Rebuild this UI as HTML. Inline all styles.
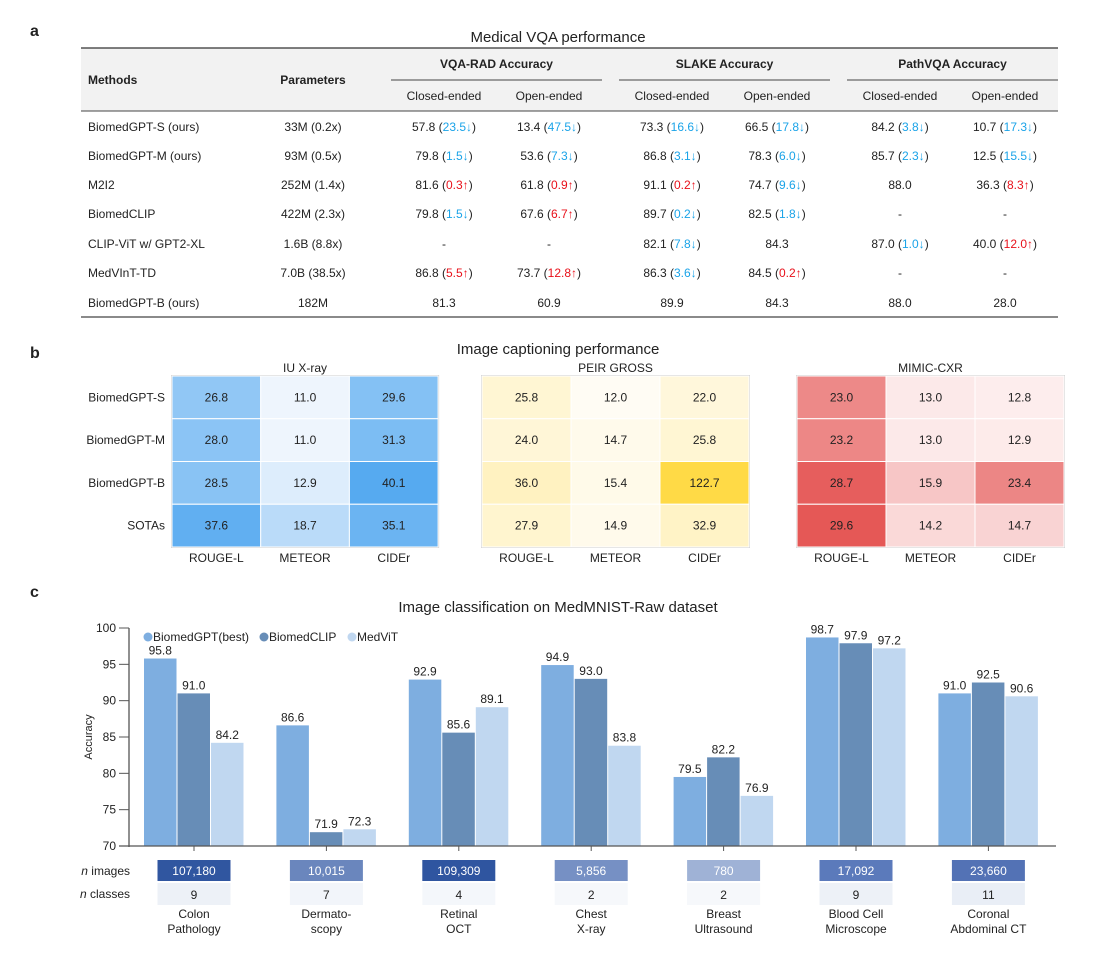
<!DOCTYPE html>
<html><head><meta charset="utf-8"><style>
body{margin:0;background:#fff;}
svg{display:block;font-family:"Liberation Sans",Arial,sans-serif;}
</style></head><body>
<svg id="fig" width="1110" height="965" viewBox="0 0 1110 965"></svg>
<script>
// ---- Table data ----
const methods=["BiomedGPT-S (ours)","BiomedGPT-M (ours)","M2I2","BiomedCLIP","CLIP-ViT w/ GPT2-XL","MedVInT-TD","BiomedGPT-B (ours)"];
const params=["33M (0.2x)","93M (0.5x)","252M (1.4x)","422M (2.3x)","1.6B (8.8x)","7.0B (38.5x)","182M"];
const vqaRad=[["57.8","23.5↓","13.4","47.5↓"],["79.8","1.5↓","53.6","7.3↓"],["81.6","0.3↑","61.8","0.9↑"],["79.8","1.5↓","67.6","6.7↑"],["-","","-",""],["86.8","5.5↑","73.7","12.8↑"],["81.3","","60.9",""]];
const slake=[["73.3","16.6↓","66.5","17.8↓"],["86.8","3.1↓","78.3","6.0↓"],["91.1","0.2↑","74.7","9.6↓"],["89.7","0.2↓","82.5","1.8↓"],["82.1","7.8↓","84.3",""],["86.3","3.6↓","84.5","0.2↑"],["89.9","","84.3",""]];
const pathvqa=[["84.2","3.8↓","10.7","17.3↓"],["85.7","2.3↓","12.5","15.5↓"],["88.0","","36.3","8.3↑"],["-","","-",""],["87.0","1.0↓","40.0","12.0↑"],["-","","-",""],["88.0","","28.0",""]];
// ---- Heatmap data ----
const hmRows=["BiomedGPT-S","BiomedGPT-M","BiomedGPT-B","SOTAs"];
const hmCols=["ROUGE-L","METEOR","CIDEr"];
const iuXray=[[26.8,11.0,29.6],[28.0,11.0,31.3],[28.5,12.9,40.1],[37.6,18.7,35.1]];
const peirGross=[[25.8,12.0,22.0],[24.0,14.7,25.8],[36.0,15.4,122.7],[27.9,14.9,32.9]];
const mimicCxr=[[23.0,13.0,12.8],[23.2,13.0,12.9],[28.7,15.9,23.4],[29.6,14.2,14.7]];
// ---- Bar chart data ----
const categories=[["Colon","Pathology"],["Dermato-","scopy"],["Retinal","OCT"],["Chest","X-ray"],["Breast","Ultrasound"],["Blood Cell","Microscope"],["Coronal","Abdominal CT"]];
const biomedGPT=[95.8,86.6,92.9,94.9,79.5,98.7,91.0];
const biomedCLIP=[91.0,71.9,85.6,93.0,82.2,97.9,92.5];
const medViT=[84.2,72.3,89.1,83.8,76.9,97.2,90.6];
const nImages=["107,180","10,015","109,309","5,856","780","17,092","23,660"];
const nClasses=["9","7","4","2","2","9","11"];
const yTicks=[70,75,80,85,90,95,100];

const NS="http://www.w3.org/2000/svg";
const svg=document.getElementById('fig');
function el(tag,attrs,parent){const e=document.createElementNS(NS,tag);for(const k in attrs)e.setAttribute(k,attrs[k]);(parent||svg).appendChild(e);return e;}
function txt(x,y,s,o,parent){o=o||{};const t=el('text',{x:x,y:y,'font-size':o.size||12,'text-anchor':o.anchor||'middle',fill:o.fill||'#222','font-weight':o.weight||'normal'},parent);t.textContent=s;return t;}

let t;
t=txt(30,36,"a",{size:16,weight:'bold',anchor:'start'});
t=txt(30,358,"b",{size:16,weight:'bold',anchor:'start'});
t=txt(30,597,"c",{size:16,weight:'bold',anchor:'start'});
t=txt(558,42,"Medical VQA performance",{size:15});
t=txt(558,354,"Image captioning performance",{size:15});
t=txt(558,612,"Image classification on MedMNIST-Raw dataset",{size:15});

// ---- Table ----
const tg=el('g',{});
el('rect',{x:81,y:48,width:977,height:63,fill:'#f2f2f2'},tg);
el('line',{x1:81,y1:48,x2:1058,y2:48,stroke:'#333','stroke-width':1.3},tg);
el('line',{x1:81,y1:111,x2:1058,y2:111,stroke:'#444','stroke-width':1},tg);
el('line',{x1:81,y1:317,x2:1058,y2:317,stroke:'#444','stroke-width':1.2},tg);
txt(88,84,"Methods",{weight:'bold',anchor:'start'},tg);
txt(313,84,"Parameters",{weight:'bold'},tg);
const groups=[["VQA-RAD Accuracy",391,602,444,549,vqaRad],["SLAKE Accuracy",619,830,672,777,slake],["PathVQA Accuracy",847,1058,900,1005,pathvqa]];
const rowY=[131,160,189,218,248,277,307];
groups.forEach(g=>{
  txt((g[1]+g[2])/2,68,g[0],{weight:'bold'},tg);
  el('line',{x1:g[1],y1:80,x2:g[2],y2:80,stroke:'#444','stroke-width':1},tg);
  txt(g[3],100,"Closed-ended",{},tg);txt(g[4],100,"Open-ended",{},tg);
  g[5].forEach((r,i)=>{
    [[g[3],r[0],r[1]],[g[4],r[2],r[3]]].forEach(c=>{
      const tt=txt(c[0],rowY[i],"",{},tg);
      const a=document.createElementNS(NS,'tspan');a.textContent=c[1]+(c[2]?" (":"");tt.appendChild(a);
      if(c[2]){const b=document.createElementNS(NS,'tspan');b.textContent=c[2];b.setAttribute('fill',c[2].includes('↑')?'#e8101a':'#1aa3e8');tt.appendChild(b);
        const d=document.createElementNS(NS,'tspan');d.textContent=")";tt.appendChild(d);}
    });
  });
});
methods.forEach((m,i)=>{txt(88,rowY[i],m,{anchor:'start'},tg);txt(313,rowY[i],params[i],{},tg);});

// ---- Heatmaps ----
function mix(c1,c2,f){return 'rgb('+c1.map((v,i)=>Math.round(v+(c2[i]-v)*f)).join(',')+')';}
function heatmap(name,title,data,x0,lo,hi,showRows){
  const g=el('g',{});
  const y0=376,cw=(name==='heatmap-iu-xray')?88.7:89,ch=42.75;
  const flat=data.flat();const mn=Math.min(...flat),mx=Math.max(...flat);
  el('rect',{x:x0-0.5,y:y0-0.5,width:cw*3+1,height:ch*4+1,fill:'none',stroke:'#ccc'},g);
  data.forEach((r,i)=>r.forEach((v,j)=>{
    const f=Math.pow((v-mn)/(mx-mn),0.8);
    const c=el('rect',{x:x0+j*cw,y:y0+i*ch,width:cw,height:ch,fill:mix(lo,hi,f),stroke:'#fff','stroke-width':1},g);
    
    txt(x0+j*cw+cw/2,y0+i*ch+ch/2+4,v.toFixed(1),{},g);
  }));
  txt(x0+cw*1.5,372,title,{},g);
  hmCols.forEach((c,j)=>txt(x0+j*cw+cw/2,562,c,{},g));
  if(showRows)hmRows.forEach((r,i)=>txt(165,y0+i*ch+ch/2+4,r,{anchor:'end'},g));
}
heatmap('heatmap-iu-xray','IU X-ray',iuXray,172,[238,245,253],[86,170,240],true);
heatmap('heatmap-peir-gross','PEIR GROSS',peirGross,482,[255,252,244],[255,218,70],false);
heatmap('heatmap-mimic-cxr','MIMIC-CXR',mimicCxr,797,[253,237,237],[229,88,86],false);

// ---- Bar chart ----
const cg=el('g',{});
const yA=v=>846-(v-70)*(218/30);
const xC=i=>194+i*132.4;
const series=[[biomedGPT,'#7eaee0','BiomedGPT(best)'],[biomedCLIP,'#678db7','BiomedCLIP'],[medViT,'#c0d7f0','MedViT']];
series.forEach((s,k)=>{
  s[0].forEach((v,i)=>{
    const x=xC(i)-50+k*33.5;
    const b=el('rect',{x:x,y:yA(v),width:32.5,height:846-yA(v),fill:s[1]},cg);
    
    txt(x+16.25,yA(v)-4,v.toFixed(1),{},cg);
  });
});
el('line',{x1:129,y1:628,x2:129,y2:847,stroke:'#555','stroke-width':1.3},cg);
el('line',{x1:119,y1:846,x2:1056,y2:846,stroke:'#555','stroke-width':1.3},cg);
yTicks.forEach(v=>{el('line',{x1:119,y1:yA(v),x2:129,y2:yA(v),stroke:'#555'},cg);txt(116,yA(v)+4,String(v),{anchor:'end'},cg);});
categories.forEach((c,i)=>el('line',{x1:xC(i),y1:846,x2:xC(i),y2:851,stroke:'#555'},cg));
t=txt(0,0,"Accuracy",{size:11},cg);t.setAttribute('transform','translate(92,737) rotate(-90)');
const lx=[148,264,352];
series.forEach((s,k)=>{
  const lg=el('g',{},cg);
  el('circle',{cx:lx[k],cy:637,r:4.5,fill:s[1]},lg);
  txt(lx[k]+5,641,s[2],{anchor:'start'},lg);
});
const imgCol=['#3056a0','#6a86bd','#2f55a0','#7690c4','#9fb2d6','#5b7abb','#5372b5'];
const clsCol=['#edf1f7','#f2f5fa','#f4f7fb','#f6f8fb','#f6f8fb','#edf1f7','#e9eef6'];
const ni=txt(130,875,"",{anchor:'end'},cg);ni.innerHTML='<tspan font-style="italic">n</tspan> images';

const nc=txt(130,898,"",{anchor:'end'},cg);nc.innerHTML='<tspan font-style="italic">n</tspan> classes';

categories.forEach((c,i)=>{
  const x=xC(i);
  const r1=el('rect',{x:x-36.5,y:860,width:73,height:21,fill:imgCol[i]},cg);
  
  txt(x,875,nImages[i],{fill:'#fff'},cg);
  const r2=el('rect',{x:x-36.5,y:883,width:73,height:22,fill:clsCol[i]},cg);
  
  txt(x,899,nClasses[i],{},cg);
  txt(x,918,c[0],{},cg);txt(x,933,c[1],{},cg);
});
</script>
</body></html>
